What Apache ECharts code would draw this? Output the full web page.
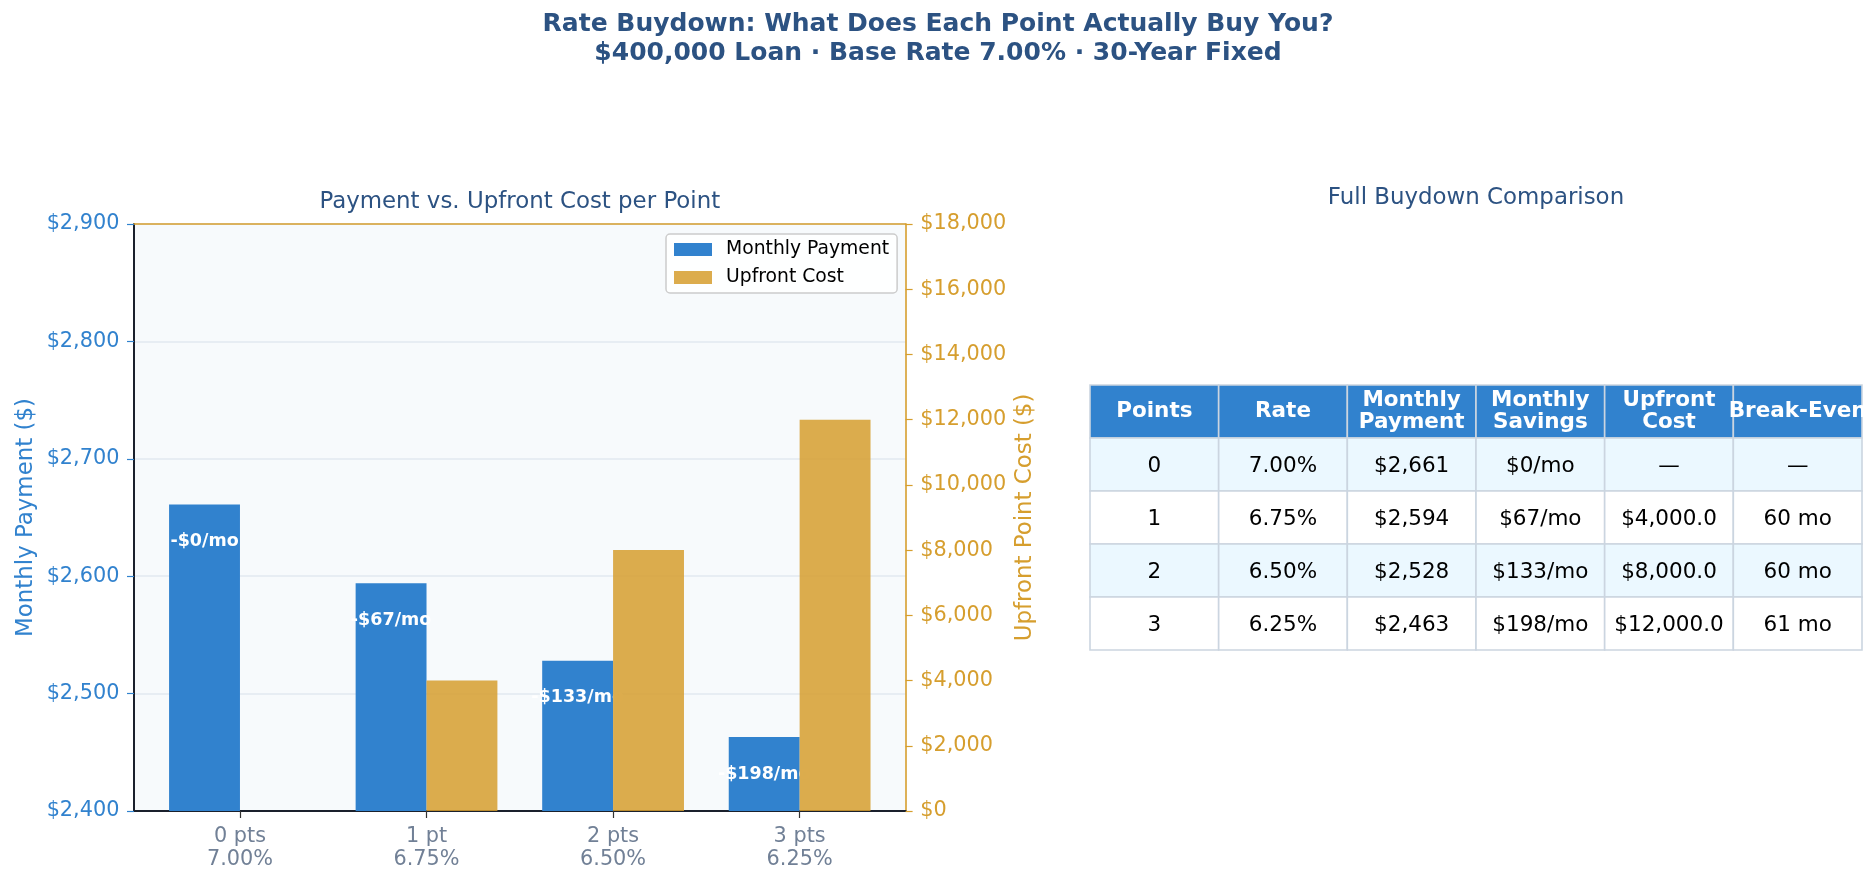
<!DOCTYPE html>
<html><head><meta charset="utf-8">
<script src="https://cdn.jsdelivr.net/npm/echarts@6/dist/echarts.min.js"></script>
<style>html,body{margin:0;padding:0;background:#fff}#c{width:1876px;height:884px}</style>
</head><body><div id="c"></div>
<script>
// ---------- data ----------
const ptsLabels = ['0 pts', '1 pt', '2 pts', '3 pts'];
const points = [0, 1, 2, 3];
const rates = ['7.00%', '6.75%', '6.50%', '6.25%'];
const payments = [2661, 2594, 2528, 2463];
const savings = [0, 67, 133, 198];
const upfront = [0, 4000, 8000, 12000];
const breakEven = [null, 60, 60, 61];
const leftAxis = { min: 2400, max: 2900, interval: 100 };
const rightAxis = { min: 0, max: 18000, interval: 2000 };
const tableHeaders = ['Points', 'Rate', 'Monthly\nPayment', 'Monthly\nSavings', 'Upfront\nCost', 'Break-Even'];

// ---------- helpers ----------
const FONT = 'DejaVu Sans';
const BLUE = '#3182CE', ORANGE = '#D69E2E', NAVY = '#2C5282';
const money = v => '$' + v.toLocaleString('en-US');
const tableRows = points.map((p, i) => [
  String(p),
  rates[i],
  money(payments[i]),
  '$' + savings[i] + '/mo',
  upfront[i] ? '$' + upfront[i].toLocaleString('en-US', { minimumFractionDigits: 1, maximumFractionDigits: 1 }) : '\u2014',
  breakEven[i] != null ? breakEven[i] + ' mo' : '\u2014'
]);
const tableCells = [];
for (let r = 0; r <= tableRows.length; r++) for (let c = 0; c < tableHeaders.length; c++) tableCells.push([c, r]);

// ---------- layout ----------
const PL = 134, PT = 224, PW = 771.6, PH = 587;
const unit = PW / 4.136;            // one category step
const innerW = unit * 4;
const innerL = PL + (PW - innerW) / 2;
const TL = 1090, TT = 385, TW = 772, TH = 265;

const chart = echarts.init(document.getElementById('c'));
chart.setOption({
  animation: false,
  backgroundColor: '#ffffff',
  textStyle: { fontFamily: FONT },
  title: {
    text: 'Rate Buydown: What Does Each Point Actually Buy You?\n$400,000 Loan \u00b7 Base Rate 7.00% \u00b7 30-Year Fixed',
    left: 'center', top: 10, padding: 0,
    textStyle: { fontFamily: FONT, fontSize: 25, fontWeight: 'bold', color: NAVY, lineHeight: 29 }
  },
  legend: {
    data: ['Monthly Payment', 'Upfront Cost'],
    orient: 'vertical', left: 666, top: 234,
    padding: [6, 8, 6, 8], itemGap: 9, itemWidth: 38, itemHeight: 13,
    icon: 'rect',
    backgroundColor: 'rgba(255,255,255,0.85)', borderColor: '#cccccc', borderWidth: 1.5, borderRadius: 4,
    textStyle: { fontFamily: FONT, fontSize: 18.75, color: '#000', padding: [0, 0, 0, 9] }
  },
  grid: [
    { left: PL, top: PT, width: PW, height: PH, show: true, backgroundColor: '#F7FAFC', borderWidth: 0 },
    { left: innerL, top: PT, width: innerW, height: PH },
    { left: TL, top: TT, width: TW, height: TH }
  ],
  xAxis: [
    { gridIndex: 0, type: 'value', min: 0, max: 1, position: 'bottom',
      axisLine: { show: true, onZero: false, lineStyle: { color: '#1a202c', width: 2 } },
      axisTick: { show: false }, axisLabel: { show: false }, splitLine: { show: false } },
    { gridIndex: 0, type: 'value', min: 0, max: 1, position: 'top',
      axisLine: { show: true, onZero: false, lineStyle: { color: ORANGE, width: 1.6 } },
      axisTick: { show: false }, axisLabel: { show: false }, splitLine: { show: false } },
    { gridIndex: 1, type: 'category', data: ptsLabels.map((l, i) => l + '\n' + rates[i]),
      axisLine: { show: false, onZero: false },
      axisTick: { show: true, alignWithLabel: true, length: 7, lineStyle: { color: '#333', width: 1.2 } },
      axisLabel: { margin: 14.6, color: '#718096', fontSize: 20.8, lineHeight: 23, fontFamily: FONT } },
    { gridIndex: 2, type: 'category', data: tableHeaders.map((h, i) => i), show: false },
  ],
  yAxis: [
    { gridIndex: 0, type: 'value', position: 'left', min: leftAxis.min, max: leftAxis.max, interval: leftAxis.interval,
      name: 'Monthly Payment ($)', nameLocation: 'middle', nameGap: 96,
      nameTextStyle: { color: BLUE, fontSize: 22.9, fontFamily: FONT },
      axisLine: { show: true, onZero: false, lineStyle: { color: '#1a202c', width: 2 } },
      axisTick: { show: true, length: 7, lineStyle: { color: BLUE, width: 1.2 } },
      axisLabel: { margin: 14.6, color: BLUE, fontSize: 20.8, fontFamily: FONT, formatter: v => money(v) },
      splitLine: { show: true, lineStyle: { color: '#E2E8F0', width: 1.5 } } },
    { gridIndex: 0, type: 'value', position: 'right', min: rightAxis.min, max: rightAxis.max, interval: rightAxis.interval,
      name: 'Upfront Point Cost ($)', nameLocation: 'middle', nameGap: 108,
      nameTextStyle: { color: ORANGE, fontSize: 22.9, fontFamily: FONT },
      axisLine: { show: true, onZero: false, lineStyle: { color: ORANGE, width: 1.6 } },
      axisTick: { show: true, length: 7, lineStyle: { color: ORANGE, width: 1.2 } },
      axisLabel: { margin: 14.6, color: ORANGE, fontSize: 20.8, fontFamily: FONT, formatter: v => money(v) },
      splitLine: { show: false } },
    { gridIndex: 1, type: 'value', min: leftAxis.min, max: leftAxis.max, show: false, axisLine: { onZero: false } },
    { gridIndex: 1, type: 'value', min: rightAxis.min, max: rightAxis.max, show: false, axisLine: { onZero: false } },
    { gridIndex: 2, type: 'category', data: [0, 1, 2, 3, 4], inverse: true, show: false }
  ],
  series: [
    { name: 'Monthly Payment', type: 'bar', xAxisIndex: 2, yAxisIndex: 2, data: payments,
      barWidth: 0.38 * unit, barGap: '0%', z: 2,
      itemStyle: { color: BLUE },
      label: { show: true, position: 'insideTop', distance: 28, color: '#fff', fontWeight: 'bold',
               fontSize: 17.5, fontFamily: FONT, formatter: p => '-$' + savings[p.dataIndex] + '/mo' } },
    { name: 'Upfront Cost', type: 'bar', xAxisIndex: 2, yAxisIndex: 3, data: upfront,
      barWidth: 0.38 * unit, barGap: '0%', z: 5,
      itemStyle: { color: 'rgba(214,158,46,0.85)' } },
    { name: 'table', type: 'custom', xAxisIndex: 3, yAxisIndex: 4, data: tableCells, z: 2,
      renderItem: (params, api) => {
        const c = api.value(0), r = api.value(1);
        const pt = api.coord([c, r]);
        const sz = api.size([1, 1]);
        const header = r === 0;
        const fill = header ? BLUE : (r % 2 === 1 ? '#EBF8FF' : '#FFFFFF');
        const txt = header ? tableHeaders[c] : tableRows[r - 1][c];
        return {
          type: 'group',
          children: [
            { type: 'rect', shape: { x: pt[0] - sz[0] / 2, y: pt[1] - sz[1] / 2, width: sz[0], height: sz[1] },
              style: { fill: fill, stroke: '#CBD5E0', lineWidth: 1.6 } },
            { type: 'text', x: pt[0], y: pt[1] + (header ? 0 : 1.5),
              style: { text: txt, fill: header ? '#fff' : '#000',
                       font: (header ? 'bold ' : '') + '21.5px "DejaVu Sans"',
                       align: 'center', verticalAlign: 'middle', textAlign: 'center', textVerticalAlign: 'middle',
                       lineHeight: 22 } }
          ]
        };
      } }
  ],
  graphic: [
    { type: 'text', x: PL + PW / 2, y: 202, z: 10,
      style: { text: 'Payment vs. Upfront Cost per Point', fill: NAVY, font: '22.9px "DejaVu Sans"',
               align: 'center', verticalAlign: 'middle', textAlign: 'center', textVerticalAlign: 'middle' } },
    { type: 'text', x: TL + TW / 2, y: 198.5, z: 10,
      style: { text: 'Full Buydown Comparison', fill: NAVY, font: '22.9px "DejaVu Sans"',
               align: 'center', verticalAlign: 'middle', textAlign: 'center', textVerticalAlign: 'middle' } },
    { type: 'rect', shape: { x: TL + TW + 1, y: TT - 5, width: 40, height: 70 }, z: 100,
      style: { fill: '#ffffff' } }
  ]
});
</script></body></html>
